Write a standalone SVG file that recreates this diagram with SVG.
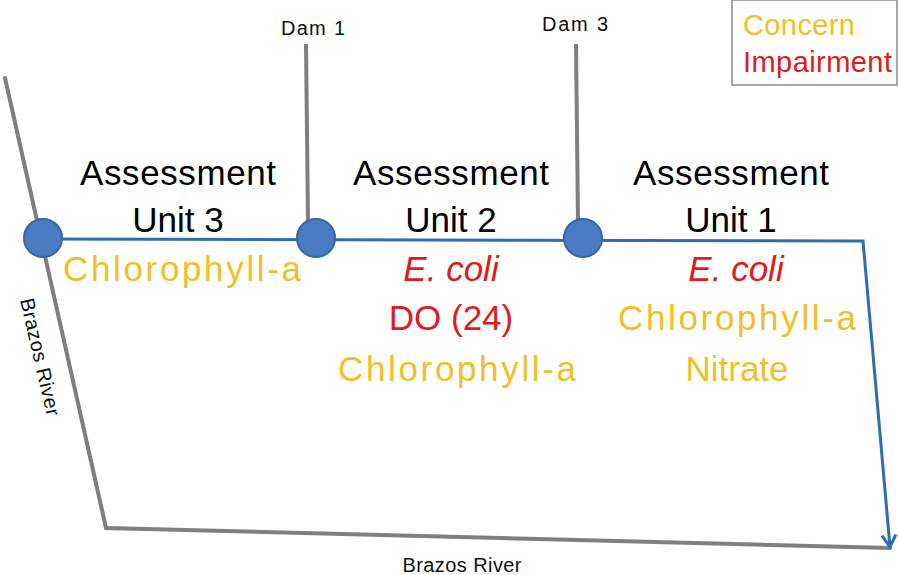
<svg xmlns="http://www.w3.org/2000/svg" width="899" height="575" viewBox="0 0 899 575">
  <defs>
    <style>
      .river { stroke: #7f7f7f; stroke-width: 4; fill: none; stroke-linecap: round; }
      .dam { stroke: #7f7f7f; stroke-width: 4; fill: none; }
      .flow { stroke: #2e6db4; stroke-width: 3; fill: none; }
      .node { fill: #4a7cc4; stroke: #3a64a0; stroke-width: 2; }
      .big { font-family: "Liberation Sans", Arial, sans-serif; font-size: 35px; text-anchor: middle; }
      .label { font-family: "Liberation Sans", Arial, sans-serif; font-size: 20px; fill: #111; }
      .mid { text-anchor: middle; }
      .blk { fill: #000; }
      .yel { fill: #f0c02a; }
      .red { fill: #e01b1b; }
      .it { font-style: italic; }
      .legend-text { font-family: "Liberation Sans", Arial, sans-serif; font-size: 29px; }
    </style>
    <marker id="arrow" markerWidth="18" markerHeight="18" refX="15" refY="9" orient="auto" markerUnits="userSpaceOnUse" viewBox="0 0 18 18">
      <path d="M3,2 L15,9 L3,16" fill="none" stroke="#2e6db4" stroke-width="3"/>
    </marker>
  </defs>

  <!-- rivers, dams and flow path -->
  <g id="connectors">
    <polyline class="river" points="5,78 106,528 890,548"/>
    <line class="dam" x1="306" y1="44" x2="308" y2="222"/>
    <line class="dam" x1="576" y1="44" x2="578" y2="222"/>
    <polyline class="flow" points="44,239 863,241 890,547" marker-end="url(#arrow)"/>
  </g>

  <!-- junction nodes -->
  <g id="node-confluence"><circle class="node" cx="43" cy="238" r="19"/></g>
  <g id="node-dam1"><circle class="node" cx="316" cy="238" r="19"/></g>
  <g id="node-dam3"><circle class="node" cx="583" cy="238" r="19"/></g>

  <!-- dam labels -->
  <g id="label-dam1"><text class="label mid" x="313" y="35" textLength="64">Dam 1</text></g>
  <g id="label-dam3"><text class="label mid" x="575" y="31" textLength="66">Dam 3</text></g>

  <!-- river labels -->
  <g id="label-brazos-left"><text class="label" transform="translate(20,300) rotate(77)" textLength="120">Brazos River</text></g>
  <g id="label-brazos-bottom"><text class="label mid" x="462" y="572" textLength="119">Brazos River</text></g>

  <!-- assessment unit 3 -->
  <g id="unit3">
    <text class="big blk" x="178" y="185" textLength="196">Assessment</text>
    <text class="big blk" x="178" y="232">Unit 3</text>
    <text class="big yel" x="182" y="281" textLength="238">Chlorophyll-a</text>
  </g>

  <!-- assessment unit 2 -->
  <g id="unit2">
    <text class="big blk" x="451" y="185" textLength="196">Assessment</text>
    <text class="big blk" x="451" y="232">Unit 2</text>
    <text class="big red it" x="451" y="281">E. coli</text>
    <text class="big red" x="451" y="330">DO (24)</text>
    <text class="big yel" x="457" y="381" textLength="238">Chlorophyll-a</text>
  </g>

  <!-- assessment unit 1 -->
  <g id="unit1">
    <text class="big blk" x="731" y="185" textLength="196">Assessment</text>
    <text class="big blk" x="731" y="232">Unit 1</text>
    <text class="big red it" x="736" y="281">E. coli</text>
    <text class="big yel" x="737" y="330" textLength="238">Chlorophyll-a</text>
    <text class="big yel" x="737" y="381">Nitrate</text>
  </g>

  <!-- legend -->
  <g id="legend">
    <rect x="732" y="0" width="165" height="85" fill="#fff" stroke="#8c8c8c" stroke-width="1.5"/>
    <text class="legend-text yel" x="743" y="35" textLength="112">Concern</text>
    <text class="legend-text red" x="743" y="72" textLength="149">Impairment</text>
  </g>
</svg>
